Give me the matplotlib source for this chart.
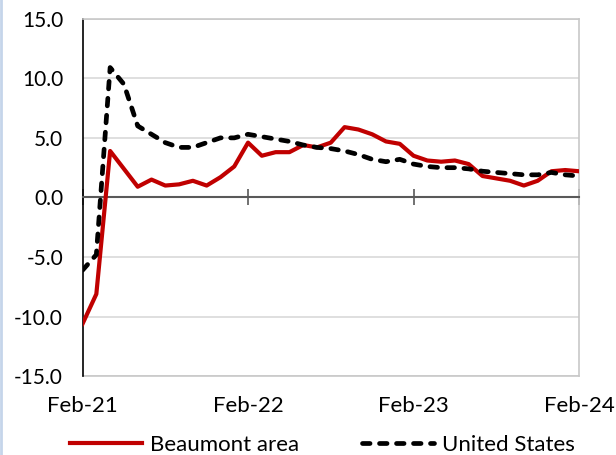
import matplotlib
matplotlib.use("Agg")
import matplotlib.pyplot as plt
import matplotlib.transforms as mtransforms
import numpy as np
import pandas as pd

# monthly, Feb-21 .. Feb-24 (year-over-year % change)
months = pd.date_range("2021-02-01", "2024-02-01", freq="MS")
beaumont = [-10.6, -8.1, 3.9, 2.4, 0.9, 1.5, 1.0, 1.1, 1.4, 1.0, 1.7, 2.6,
            4.6, 3.5, 3.8, 3.8, 4.4, 4.2, 4.6, 5.9, 5.7, 5.3, 4.7, 4.5,
            3.5, 3.1, 3.0, 3.1, 2.8, 1.8, 1.6, 1.4, 1.0, 1.4, 2.2, 2.3, 2.2]
us = [-6.1, -4.8, 10.9, 9.5, 6.0, 5.3, 4.6, 4.2, 4.2, 4.6, 5.0, 5.0,
      5.3, 5.1, 4.9, 4.7, 4.4, 4.2, 4.1, 3.9, 3.6, 3.2, 3.0, 3.2,
      2.8, 2.6, 2.5, 2.5, 2.4, 2.2, 2.1, 2.0, 1.9, 1.9, 2.1, 1.9, 1.8]
tick_idx = [0, 12, 24, 36]
tick_labels = ["Feb-21", "Feb-22", "Feb-23", "Feb-24"]
yticks = [-15, -10, -5, 0, 5, 10, 15]

plt.rcParams["font.family"] = ["Lato", "DejaVu Sans"]
FS = 16

fig = plt.figure(figsize=(6.16, 4.55), dpi=100)
ax = fig.add_axes([0.134, 0.173, 0.806, 0.786])

x = np.arange(len(months))
ax.plot(x, beaumont, color="#c00000", lw=3.0, label="Beaumont area", zorder=3)
ax.plot(x, us, color="black", lw=3.4, dashes=(1.6, 2.0), dash_capstyle="round",
        label="United States", zorder=4)

ax.set_xlim(0, 36)
ax.set_ylim(-15, 15)
ax.set_yticks(yticks)
ax.set_yticklabels([f"{v:.1f}" for v in yticks], fontsize=15)
ax.tick_params(axis="y", length=0, pad=14)
ax.yaxis.grid(True, color="#d9d9d9", lw=1.2)
ax.set_axisbelow(True)

# light plot-area frame, black left axis, x axis crossing at zero
for s in ["top", "right"]:
    ax.spines[s].set_color("#c8c8c8")
    ax.spines[s].set_linewidth(1.2)
ax.spines["left"].set_color("black")
ax.spines["left"].set_linewidth(1.2)
ax.spines["bottom"].set_position(("data", 0))
ax.spines["bottom"].set_color("#595959")
ax.spines["bottom"].set_linewidth(1.5)
ax.axhline(-15, color="#c8c8c8", lw=1.2, zorder=1, clip_on=False)

ax.set_xticks(tick_idx)
ax.tick_params(axis="x", direction="inout", length=11, width=1.2, color="#595959", labelbottom=False)
trans = mtransforms.blended_transform_factory(ax.transData, ax.transAxes)
for i, lab in zip(tick_idx, tick_labels):
    ax.text(i, -0.084, lab, transform=trans, ha="center", va="center", fontsize=FS)

fig.legend(loc="center", ncol=2, frameon=False, fontsize=FS,
           bbox_to_anchor=(0.5235, 0.022), handlelength=3.25, columnspacing=2.85, handletextpad=0.36)

# thin blue rule on the left edge of the figure
fig.add_artist(plt.Line2D([0.002, 0.002], [0, 1], color="#c5d5ea", lw=2, transform=fig.transFigure))

fig.savefig("out.png", dpi=100)
